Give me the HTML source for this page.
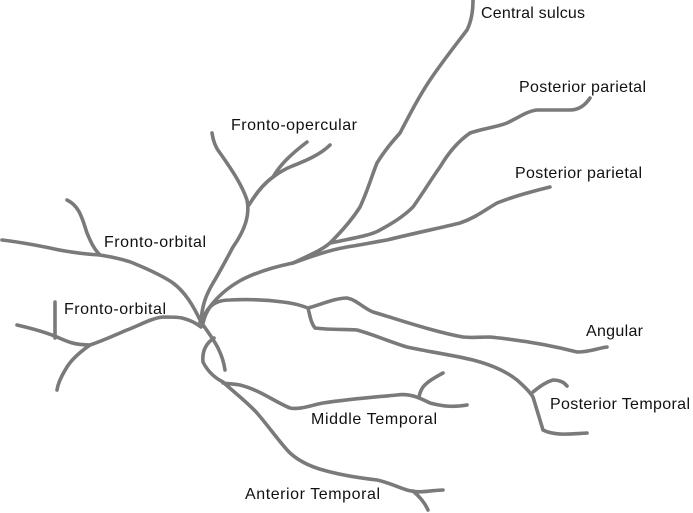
<!DOCTYPE html>
<html><head><style>
html,body{margin:0;padding:0;background:#fff;}
svg{display:block;}
text{font-family:"Liberation Sans",sans-serif;font-size:16px;fill:#111;}
path{fill:none;stroke:#7a7a7a;stroke-width:3.6;stroke-linecap:round;stroke-linejoin:round;}
</style></head><body>
<svg width="693" height="513" viewBox="0 0 693 513">
<path d="M200,322 C220,285 250,272 293,263 C310,255 322,250 330,243 C345,228 355,215 360,207 C368,190 372,175 377,163 C385,150 392,142 400,133 C412,110 420,95 430,80 C445,58 458,42 467,30 C472,20 473,10 473,0"/>
<path d="M330,243 C355,238 372,235 380,230 C395,222 405,215 413,207 C425,190 432,178 440,167 C450,150 460,140 470,133 C485,128 497,127 507,123 C518,118 527,111 537,110 C550,110 562,110 570,110 C580,110 586,104 590,98"/>
<path d="M293,263 C315,255 330,250 347,247 C360,245 375,242 387,240 C415,233 440,228 460,223 C475,218 485,210 497,203 C515,196 530,192 550,187"/>
<path d="M212,133 C213,140 215,147 220,153 C232,170 242,185 247,200 C250,215 245,230 233,247 C225,262 218,275 213,283 C206,295 202,305 201,322"/>
<path d="M249,205 C255,195 262,185 273,177 C280,172 285,169 290,167 C305,161 320,155 330,145"/>
<path d="M273,177 C280,165 290,155 307,142"/>
<path d="M2,240 C20,242 35,245 50,248 C67,252 85,254 100,255 C112,257 123,259 133,263 C150,270 163,276 173,283 C185,292 193,305 201,322"/>
<path d="M100,255 C93,248 90,240 87,233 C84,224 82,216 78,210 C75,205 71,202 67,200"/>
<path d="M17,325 C30,328 45,332 57,337 C68,342 75,345 90,345 C105,340 115,335 127,330 C140,325 152,318 163,317 C172,317 178,317 182,318 C190,320 196,323 201,327"/>
<path d="M55,338 L55,302"/>
<path d="M90,345 C80,352 72,359 67,367 C62,375 58,383 57,390"/>
<path d="M201,322 C208,332 214,340 218,348 C222,356 224,363 225,370"/>
<path d="M214,338 C205,344 202,352 203,362 C208,372 215,378 223,382 C235,393 247,402 257,413 C270,428 280,443 290,453 C300,462 312,467 323,470 C340,475 360,478 377,480 C390,483 400,488 407,490 C420,494 432,490 443,490"/>
<path d="M413,491 C420,497 425,503 428,510"/>
<path d="M223,383 C230,384 235,384 240,385 C260,390 275,402 290,408 C300,410 312,405 323,403 C350,399 375,397 397,395 C410,393 420,398 430,403 C445,407 455,407 467,405"/>
<path d="M419,397 C420,392 421,390 423,387 C428,381 436,377 443,373"/>
<path d="M203,323 C205,315 207,311 210,307 C215,302 222,300 230,300 C250,299 268,300 283,302 C293,303 300,305 308,308 C320,305 335,298 347,298 C357,300 363,308 373,312 C400,320 435,332 463,337 C472,338 482,337 490,337 C520,340 550,345 577,352 C590,352 598,348 607,347"/>
<path d="M308,308 C310,316 311,323 315,328 C330,330 345,329 357,330 C375,335 390,342 407,347 C430,352 452,355 473,360 C492,365 507,372 517,380 C525,387 530,392 533,397 C537,410 540,420 543,430 C555,436 570,434 587,433"/>
<path d="M533,392 C540,386 546,382 553,380 C560,380 564,382 567,386"/>
<text x="481" y="18" textLength="104">Central sulcus</text>
<text x="519" y="92" textLength="127">Posterior parietal</text>
<text x="515" y="178" textLength="127">Posterior parietal</text>
<text x="231" y="130" textLength="126">Fronto-opercular</text>
<text x="104" y="247" textLength="102">Fronto-orbital</text>
<text x="64" y="314" textLength="102">Fronto-orbital</text>
<text x="586" y="336" textLength="57">Angular</text>
<text x="550" y="409" textLength="140">Posterior Temporal</text>
<text x="311" y="424" textLength="126">Middle Temporal</text>
<text x="245" y="499" textLength="135">Anterior Temporal</text>
</svg>
</body></html>
